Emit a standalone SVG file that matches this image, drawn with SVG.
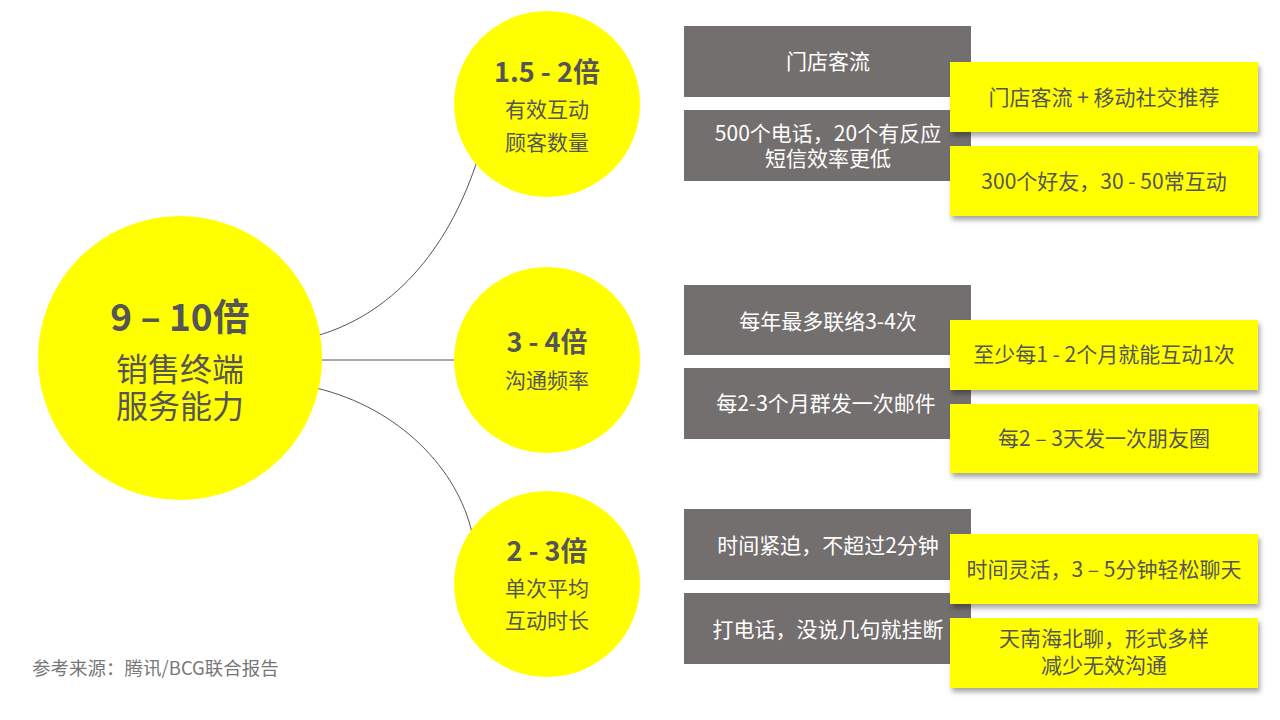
<svg xmlns="http://www.w3.org/2000/svg" width="1280" height="720" viewBox="0 0 1280 720">
<defs>
<filter id="sh" x="-10%" y="-20%" width="130%" height="150%">
<feDropShadow dx="2" dy="4" stdDeviation="2.5" flood-color="#000" flood-opacity="0.35"/>
</filter>
<style>
text{font-family:"Noto Sans CJK SC","Noto Sans",sans-serif;text-anchor:middle}
.c{fill:#ffff00}
.g{fill:#736f6e}
.y{fill:#ffff00;filter:url(#sh)}
.t1{font-size:37px;font-weight:bold;fill:#555}
.t2{font-size:32px;fill:#555}
.h{font-size:27px;font-weight:bold;fill:#555}
.s{font-size:21px;fill:#555}
.w{font-size:21px;fill:#fff}
.d{font-size:21px;fill:#555}
.l{fill:none;stroke:#555;stroke-width:1}
</style>
</defs>
<rect width="1280" height="720" fill="#fff"/>
<g id="connectors">
<path class="l" d="M316,336 C400,312 452,240 478,158"/>
<path class="l" d="M320,360 L458,360"/>
<path class="l" d="M316,388 C400,408 458,470 472,533"/>
</g>
<g id="center">
<circle class="c" cx="180" cy="358" r="142"/>
<text class="t1" x="180" y="331">9 – 10倍</text>
<text class="t2" x="180" y="381">销售终端</text>
<text class="t2" x="180" y="418">服务能力</text>
</g>
<g id="n1">
<circle class="c" cx="547" cy="104" r="93"/>
<text class="h" x="547" y="82">1.5 - 2倍</text>
<text class="s" x="547" y="117">有效互动</text>
<text class="s" x="547" y="150">顾客数量</text>
</g>
<g id="n2">
<circle class="c" cx="547" cy="360" r="93"/>
<text class="h" x="547" y="352">3 - 4倍</text>
<text class="s" x="547" y="388">沟通频率</text>
</g>
<g id="n3">
<circle class="c" cx="547" cy="584" r="93"/>
<text class="h" x="547" y="561">2 - 3倍</text>
<text class="s" x="547" y="596">单次平均</text>
<text class="s" x="547" y="628">互动时长</text>
</g>
<g id="g1a"><rect class="g" x="684" y="26" width="287" height="71"/><text class="w" x="828" y="69">门店客流</text></g>
<g id="g1b"><rect class="g" x="684" y="110" width="287" height="71"/><text class="w" x="828" y="141">500个电话，20个有反应</text><text class="w" x="828" y="166">短信效率更低</text></g>
<g id="y1a"><rect class="y" x="950" y="62" width="308" height="70"/><text class="d" x="1104" y="105">门店客流 + 移动社交推荐</text></g>
<g id="y1b"><rect class="y" x="950" y="146" width="308" height="70"/><text class="d" x="1104" y="189">300个好友，30 - 50常互动</text></g>
<g id="g2a"><rect class="g" x="684" y="285" width="287" height="70"/><text class="w" x="828" y="329">每年最多联络3-4次</text></g>
<g id="g2b"><rect class="g" x="684" y="368" width="287" height="71"/><text class="w" x="826" y="411">每2-3个月群发一次邮件</text></g>
<g id="y2a"><rect class="y" x="950" y="320" width="308" height="70"/><text class="d" x="1104" y="362">至少每1 - 2个月就能互动1次</text></g>
<g id="y2b"><rect class="y" x="950" y="404" width="308" height="69"/><text class="d" x="1104" y="446">每2 – 3天发一次朋友圈</text></g>
<g id="g3a"><rect class="g" x="684" y="509" width="287" height="71"/><text class="w" x="828" y="553">时间紧迫，不超过2分钟</text></g>
<g id="g3b"><rect class="g" x="684" y="593" width="287" height="71"/><text class="w" x="828" y="637">打电话，没说几句就挂断</text></g>
<g id="y3a"><rect class="y" x="950" y="534" width="308" height="70"/><text class="d" x="1104" y="577">时间灵活，3 – 5分钟轻松聊天</text></g>
<g id="y3b"><rect class="y" x="950" y="618" width="308" height="70"/><text class="d" x="1104" y="646">天南海北聊，形式多样</text><text class="d" x="1104" y="673">减少无效沟通</text></g>
<g id="footer"><text x="32" y="675" style="text-anchor:start;font-size:18.5px;fill:#777">参考来源：腾讯/BCG联合报告</text></g>
</svg>
